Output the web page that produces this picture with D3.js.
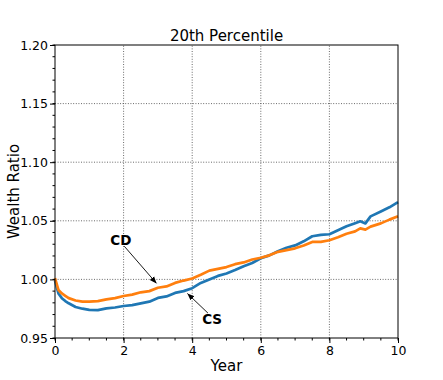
<!DOCTYPE html>
<html>
<head>
<meta charset="utf-8">
<script src="https://cdn.jsdelivr.net/npm/d3@7"></script>
<style>
  body { margin: 0; background: #fff; }
  svg { font-family: "DejaVu Sans", sans-serif; }
</style>
</head>
<body>
<svg id="chart" width="443" height="380"></svg>
<script>
// sample times (years)
const years = [0, 0.1, 0.2, 0.3, 0.4, 0.6, 0.8, 1.0, 1.25, 1.5, 1.75, 2.0, 2.25, 2.5, 2.75,
  3.0, 3.25, 3.5, 3.75, 4.0, 4.25, 4.5, 4.75, 5.0, 5.25, 5.5, 5.75, 6.0, 6.25, 6.5, 6.75,
  7.0, 7.25, 7.5, 7.75, 8.0, 8.25, 8.5, 8.75, 8.9, 9.05, 9.2, 9.5, 9.75, 10.0];

// CD, orange
const cdValues = [1.001, 0.991, 0.988, 0.986, 0.984, 0.982, 0.981, 0.981, 0.9815, 0.983, 0.984,
  0.9858, 0.987, 0.989, 0.990, 0.9929, 0.994, 0.997, 0.999, 1.0008, 1.004, 1.0075, 1.009,
  1.0105, 1.013, 1.0145, 1.017, 1.0185, 1.0205, 1.0235, 1.025, 1.0265, 1.029, 1.032, 1.032,
  1.0334, 1.036, 1.039, 1.041, 1.0435, 1.0425, 1.045, 1.0478, 1.051, 1.0538];

// CS, blue
const csValues = [0.999, 0.988, 0.984, 0.9815, 0.9796, 0.9765, 0.975, 0.974, 0.9738, 0.9753,
  0.976, 0.9773, 0.978, 0.9796, 0.981, 0.9842, 0.9855, 0.9885, 0.990, 0.9925, 0.997, 1.000,
  1.003, 1.0051, 1.008, 1.0113, 1.014, 1.018, 1.0205, 1.024, 1.027, 1.029, 1.0325, 1.0368,
  1.038, 1.0385, 1.042, 1.0453, 1.048, 1.0496, 1.0478, 1.0538, 1.058, 1.0615, 1.066];

const xTicks = [0, 2, 4, 6, 8, 10];
const yTicks = [0.95, 1.00, 1.05, 1.10, 1.15, 1.20];

// annotations: label, text position, arrow tail, arrow tip
const notes = [
  { label: "CD", text: [1.92, 1.0335], tail: [2.02, 1.0283], tip: [2.96, 0.9966] },
  { label: "CS", text: [4.58, 0.9665], tail: [4.46, 0.9712], tip: [3.86, 0.988] }
];

const width = 443;
const height = 380;
const margin = { top: 45, right: 45, bottom: 42, left: 55 };

const svg = d3.select("#chart");

const xScale = d3.scaleLinear()
  .domain([0, 10])
  .range([margin.left, width - margin.right]);

const yScale = d3.scaleLinear()
  .domain([0.95, 1.20])
  .range([height - margin.bottom, margin.top]);

// grid
const grid = svg.append("g")
  .attr("stroke", "#444")
  .attr("stroke-width", 0.8)
  .attr("stroke-dasharray", "1,1.6");
grid.selectAll(".gx").data(xTicks.slice(1, -1)).enter().append("line")
  .attr("x1", d => xScale(d)).attr("x2", d => xScale(d))
  .attr("y1", yScale(0.95)).attr("y2", yScale(1.20));
grid.selectAll(".gy").data(yTicks.slice(1, -1)).enter().append("line")
  .attr("x1", xScale(0)).attr("x2", xScale(10))
  .attr("y1", d => yScale(d)).attr("y2", d => yScale(d));

// lines
const line = d3.line()
  .x((d, i) => xScale(years[i]))
  .y(d => yScale(d));

svg.append("path")
  .datum(csValues)
  .attr("fill", "none")
  .attr("stroke", "#1f77b4")
  .attr("stroke-width", 2.7)
  .attr("stroke-linejoin", "round")
  .attr("d", line);

svg.append("path")
  .datum(cdValues)
  .attr("fill", "none")
  .attr("stroke", "#ff7f0e")
  .attr("stroke-width", 2.7)
  .attr("stroke-linejoin", "round")
  .attr("d", line);

// axes
const xAxis = d3.axisBottom(xScale).tickValues(xTicks).tickSize(5).tickPadding(3)
  .tickFormat(d3.format("d"));
const yAxis = d3.axisLeft(yScale).tickValues(yTicks).tickSize(5).tickPadding(2)
  .tickFormat(d3.format(".2f"));

const gx = svg.append("g")
  .attr("transform", `translate(0,${height - margin.bottom})`)
  .call(xAxis);
const gy = svg.append("g")
  .attr("transform", `translate(${margin.left},0)`)
  .call(yAxis);

// minor ticks
gx.selectAll(".minor").data(d3.range(0, 10.01, 0.5)).enter().append("line")
  .attr("x1", d => xScale(d)).attr("x2", d => xScale(d))
  .attr("y1", 0).attr("y2", 2.5).attr("stroke", "#000");
gy.selectAll(".minor").data(d3.range(95, 121, 1).map(v => v / 100)).enter().append("line")
  .attr("y1", d => yScale(d)).attr("y2", d => yScale(d))
  .attr("x1", 0).attr("x2", -2.5).attr("stroke", "#000");

[gx, gy].forEach(g => {
  g.select(".domain").remove();
  g.selectAll("text").attr("font-size", 12.5).attr("fill", "#000")
    .attr("font-family", "DejaVu Sans");
  g.selectAll(".tick line").attr("stroke", "#000");
});

// frame
svg.append("rect")
  .attr("x", xScale(0)).attr("y", yScale(1.20))
  .attr("width", xScale(10) - xScale(0))
  .attr("height", yScale(0.95) - yScale(1.20))
  .attr("fill", "none").attr("stroke", "#000").attr("stroke-width", 1);

// title and labels
svg.append("text")
  .attr("x", (xScale(0) + xScale(10)) / 2).attr("y", 41)
  .attr("text-anchor", "middle").attr("font-size", 15)
  .text("20th Percentile");

svg.append("text")
  .attr("x", (xScale(0) + xScale(10)) / 2).attr("y", 371)
  .attr("text-anchor", "middle").attr("font-size", 15)
  .text("Year");

svg.append("text")
  .attr("transform", `translate(19,${(yScale(0.95) + yScale(1.20)) / 2}) rotate(-90)`)
  .attr("text-anchor", "middle").attr("font-size", 15)
  .text("Wealth Ratio");

// annotations
svg.append("defs").append("marker")
  .attr("id", "head")
  .attr("viewBox", "0 0 10 10")
  .attr("refX", 10).attr("refY", 5)
  .attr("markerWidth", 7).attr("markerHeight", 7)
  .attr("markerUnits", "userSpaceOnUse")
  .attr("orient", "auto")
  .append("path")
  .attr("d", "M0,1 L10,5 L0,9 Z")
  .attr("fill", "#000");

notes.forEach(n => {
  svg.append("line")
    .attr("x1", xScale(n.tail[0])).attr("y1", yScale(n.tail[1]))
    .attr("x2", xScale(n.tip[0])).attr("y2", yScale(n.tip[1]))
    .attr("stroke", "#000").attr("stroke-width", 0.9)
    .attr("marker-end", "url(#head)");
  svg.append("text")
    .attr("x", xScale(n.text[0])).attr("y", yScale(n.text[1]))
    .attr("text-anchor", "middle").attr("dy", "0.36em")
    .attr("font-size", 13.5).attr("font-weight", "bold")
    .text(n.label);
});
</script>
</body>
</html>
